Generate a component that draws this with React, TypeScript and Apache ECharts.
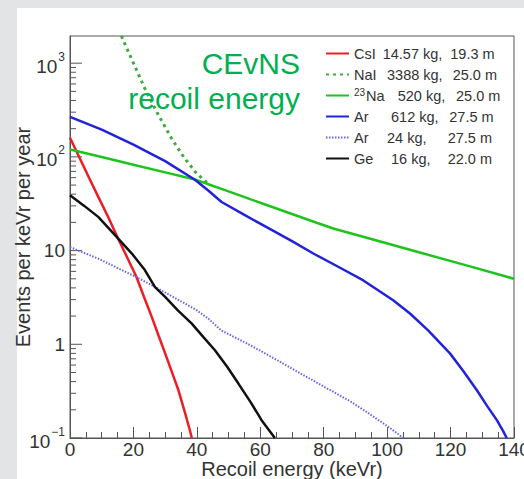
import React, { useEffect, useRef } from 'react';
import * as echarts from 'echarts';

const FONT = '"Liberation Sans", Arial, Helvetica, sans-serif';

// Series (x in keVr, y in events per keVr per year)
const csI: number[][] = [
  [0, 160], [3, 98], [6, 60], [9, 37], [12, 23], [15, 13.8], [18, 8.5], [21, 5.2],
  [23.5, 3.1], [25.8, 1.95], [28, 1.22], [30, 0.8], [32, 0.52], [34.2, 0.323],
  [36, 0.2], [37.8, 0.121], [38.4, 0.1],
];
const naI: number[][] = [
  [16.2, 1950], [20, 1000], [24, 500], [28, 275], [32, 158], [36, 98], [40, 66], [43.8, 51],
];
const na23: number[][] = [
  [0, 120], [10, 99.5], [20, 82.5], [30, 68.3], [39.4, 57.3], [50, 42.8], [60, 32.4],
  [70, 24.6], [78, 19.7], [83, 17.2], [95, 13.3], [110, 9.6], [125, 6.95], [140, 5.0],
];
const ar612: number[][] = [
  [0, 267], [10, 195], [20, 135], [30, 90], [39.4, 57], [43.5, 44], [47.8, 33],
  [55, 24], [62, 17.8], [70, 12.6], [77, 9.2], [85, 6.6], [92.5, 4.8], [101.9, 2.95],
  [107.2, 2.13], [113, 1.4], [119.8, 0.8], [124, 0.52], [128.3, 0.323], [131.5, 0.22],
  [134.6, 0.155], [136.5, 0.12], [137.7, 0.1],
];
const ar24: number[][] = [
  [0, 10.9], [8.9, 8.2], [20.5, 5.3], [26.8, 4.1], [35.2, 2.85], [40, 2.3], [43.6, 1.88],
  [47.8, 1.4], [56.8, 0.98], [61.5, 0.8], [67.3, 0.62], [77.8, 0.39], [88.3, 0.247],
  [93.5, 0.19], [98.8, 0.143], [102, 0.12], [105.1, 0.1],
];
const ge: number[][] = [
  [0, 39], [4.5, 30], [8.9, 22.9], [14.7, 14], [19.5, 9.3], [23.6, 6.2],
  [26.8, 4.08], [30, 3.2], [34, 2.3], [38.4, 1.66], [42, 1.2], [45.7, 0.863],
  [49.5, 0.58], [53.1, 0.381], [57, 0.24], [60.4, 0.155], [64.6, 0.1],
];

const seriesNames = ['CsI', 'NaI', '23Na', 'Ar612', 'Ar24', 'Ge'];
const legendLabels: Record<string, string> = {
  CsI: '{a0|CsI}{b0|14.57 kg,}{c|19.3 m}',
  NaI: '{a1|NaI}{b1|3388 kg,}{c|25.0 m}',
  '23Na': '{sup|23}{a2|Na}{b2|520 kg,}{c|25.0 m}',
  Ar612: '{a3|Ar}{b3|612 kg,}{c|27.5 m}',
  Ar24: '{a4|Ar}{b4|24 kg,}{c|27.5 m}',
  Ge: '{a5|Ge}{b5|16 kg,}{c|22.0 m}',
};

const xMin = 0;
const xMax = 140;
const xStep = 20;
const yMin = 0.1;
const yMax = 1950;
const decades = [0.1, 1, 10, 100, 1000];
const minorMultipliers = [2, 3, 4, 5, 6, 7, 8, 9];

export default function App() {
  const ref = useRef<HTMLDivElement>(null);
  useEffect(() => {
    if (!ref.current) return;
    const chart = echarts.init(ref.current, null, { renderer: 'svg' });

    const tickData: number[][] = [];
    decades.forEach((d) => {
      tickData.push([0, d, 1]);
      minorMultipliers.forEach((m) => {
        const v = d * m;
        if (v <= yMax) tickData.push([0, v, 0]);
      });
    });

    const lineSeries = (name: string, data: number[][], color: string, width: number, type: any) => ({
      name,
      type: 'line',
      data,
      showSymbol: false,
      symbol: 'none',
      lineStyle: { color, width, type },
      itemStyle: { color },
      z: 3,
    });

    const FS = 14.5;
    const LH = 16;
    const seg = (w?: number) => (w === undefined ? { fontSize: FS, lineHeight: LH } : { width: w, fontSize: FS, lineHeight: LH });
    const legendRich: any = {
      c: seg(),
      sup: { fontSize: 10, lineHeight: LH, verticalAlign: 'top', width: 12 },
      a0: seg(28.7),
      a1: seg(33),
      a2: seg(31.7),
      a3: seg(37),
      a4: seg(33),
      a5: seg(37),
      b0: seg(67.6),
      b1: seg(65.7),
      b2: seg(58.3),
      b3: seg(58.3),
      b4: seg(60.7),
      b5: seg(56.7),
    };

    chart.setOption({
      animation: false,
      backgroundColor: '#e3e4e6',
      textStyle: { fontFamily: FONT },
      graphic: [
        {
          type: 'rect',
          z: -10,
          shape: { x: 17, y: 8, width: 520, height: 480 },
          style: { fill: '#ffffff' },
          silent: true,
        },
        {
          type: 'text',
          z: 10,
          style: {
            text: 'CEvNS',
            x: 300,
            y: 63,
            align: 'right',
            verticalAlign: 'middle',
            fill: '#00b050',
            fontSize: 30,
            fontFamily: FONT,
          },
        },
        {
          type: 'text',
          z: 10,
          style: {
            text: 'recoil energy',
            x: 300,
            y: 98,
            align: 'right',
            verticalAlign: 'middle',
            fill: '#00b050',
            fontSize: 30,
            fontFamily: FONT,
          },
        },
      ],
      grid: {
        left: 70,
        top: 36,
        right: 10,
        bottom: 41,
        show: true,
        borderColor: '#555',
        borderWidth: 1,
        backgroundColor: 'transparent',
        containLabel: false,
        outerBoundsMode: 'none',
      },
      legend: {
        orient: 'vertical',
        left: 325,
        top: 45.5,
        padding: 0,
        itemWidth: 23,
        itemHeight: 14,
        itemGap: 5,
        data: seriesNames,
        itemStyle: { opacity: 0 },
        formatter: (name: string) => legendLabels[name],
        textStyle: { fontFamily: FONT, fontSize: FS, color: '#333', lineHeight: LH, rich: legendRich },
      },
      xAxis: {
        type: 'value',
        min: xMin,
        max: xMax,
        interval: xStep,
        name: 'Recoil energy (keVr)',
        nameLocation: 'middle',
        nameGap: 22,
        nameMoveOverlap: false,
        nameTextStyle: { fontSize: 20, lineHeight: 18, color: '#333', fontFamily: FONT },
        axisLine: { show: true, lineStyle: { color: '#555', width: 1 } },
        axisTick: { show: true, inside: true, length: 11, lineStyle: { color: '#555' } },
        minorTick: { show: true, splitNumber: 4, length: 6, lineStyle: { color: '#555' } },
        splitLine: { show: false },
        axisLabel: { fontSize: 19, lineHeight: 19, color: '#333', margin: 1.5, fontFamily: FONT, hideOverlap: false },
      },
      yAxis: {
        type: 'log',
        logBase: 10,
        min: yMin,
        max: yMax,
        name: 'Events per keVr per year',
        nameLocation: 'middle',
        nameGap: 37,
        nameMoveOverlap: false,
        nameRotate: 90,
        nameTextStyle: { fontSize: 20, color: '#333', fontFamily: FONT },
        axisLine: { show: true, lineStyle: { color: '#555', width: 1 } },
        axisTick: { show: false },
        splitLine: { show: false },
        axisLabel: {
          margin: 5,
          color: '#333',
          fontFamily: FONT,
          formatter: (v: number) => {
            const l = Math.log10(v);
            const e = Math.round(l);
            if (Math.abs(l - e) > 1e-6) return '';
            if (e === 0) return '{n|1}';
            if (e === 1) return '{n|10}';
            return '{p|10}{s|' + (e < 0 ? '\u2212' + -e : String(e)) + '}';
          },
          rich: {
            n: { fontSize: 19, color: '#333', fontFamily: FONT },
            p: { fontSize: 19, color: '#333', fontFamily: FONT, padding: [6, 0, 0, 0] },
            s: { fontSize: 12, color: '#333', fontFamily: FONT, verticalAlign: 'top', padding: [0, 0, 0, 1] },
          },
        },
      },
      series: [
        {
          type: 'custom',
          name: 'yticks',
          silent: true,
          clip: false,
          data: tickData,
          encode: { x: 0, y: 1 },
          renderItem: (params: any, api: any) => {
            const v = api.value(1);
            const major = api.value(2);
            const p = api.coord([0, v]);
            const len = major ? 12 : 6;
            return {
              type: 'line',
              shape: { x1: p[0], y1: p[1], x2: p[0] + len, y2: p[1] },
              style: { stroke: '#555', lineWidth: 1 },
            };
          },
        },
        lineSeries('CsI', csI, '#ee1c24', 2.5, 'solid'),
        lineSeries('NaI', naI, '#3faa3f', 3, [3, 4]),
        lineSeries('23Na', na23, '#1ec31e', 2.5, 'solid'),
        lineSeries('Ar612', ar612, '#2222dd', 2.5, 'solid'),
        lineSeries('Ar24', ar24, '#6666ee', 2, [1.5, 1.5]),
        lineSeries('Ge', ge, '#111111', 2.5, 'solid'),
      ],
    });
    return () => chart.dispose();
  }, []);
  return (
    <div
      ref={ref}
      style={{ position: 'absolute', left: 0, top: 0, width: 524, height: 479 }}
    />
  );
}
